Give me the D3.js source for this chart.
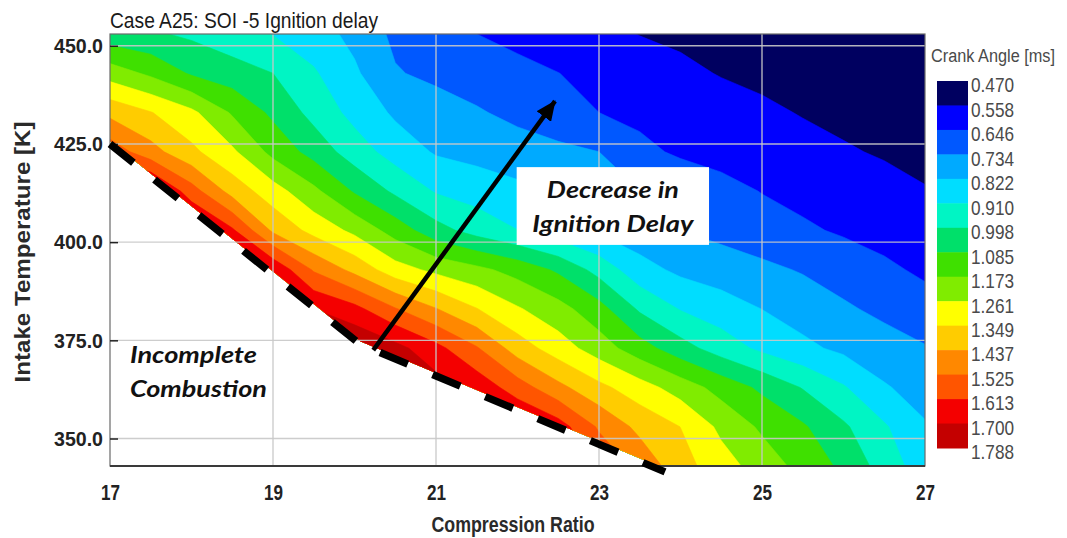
<!DOCTYPE html>
<html>
<head>
<meta charset="utf-8">
<script src="https://cdn.jsdelivr.net/npm/d3@7"></script>
<style>
  html, body { margin: 0; padding: 0; background: #fff; }
  svg { display: block; }
  .narrow { font-family: "Liberation Sans Narrow", "Arial Narrow", "Liberation Sans", Arial, sans-serif; }
  .note { font-family: Lato, "Open Sans", "DejaVu Sans", sans-serif; font-weight: 700; font-style: italic; }
</style>
</head>
<body>
<svg id="chart" width="1067" height="538"></svg>
<script>
// Simulation grid: compression ratio columns, intake temperature rows [K]
const compressionRatio = [17, 17.5, 18, 18.5, 19, 19.5, 20, 20.5, 21, 21.5, 22, 22.5, 23, 23.5, 24, 24.5, 25, 25.5, 26, 26.5, 27];
const intakeTemp = [453, 443, 433, 423, 413, 403, 393, 383, 373, 363, 353, 343];

// Ignition delay [ms] per intake temperature row
const delayT453 = [1.030, 1.010, 0.983, 0.945, 0.907, 0.861, 0.798, 0.715, 0.680, 0.646, 0.623, 0.600, 0.577, 0.556, 0.544, 0.532, 0.519, 0.507, 0.495, 0.482, 0.470];
const delayT443 = [1.220, 1.156, 1.074, 1.036, 0.998, 0.920, 0.836, 0.741, 0.713, 0.691, 0.669, 0.647, 0.623, 0.598, 0.574, 0.554, 0.542, 0.529, 0.517, 0.505, 0.493];
const delayT433 = [1.413, 1.353, 1.281, 1.163, 1.066, 0.970, 0.882, 0.808, 0.776, 0.743, 0.711, 0.679, 0.646, 0.628, 0.609, 0.590, 0.571, 0.554, 0.541, 0.528, 0.515];
const delayT423 = [1.578, 1.470, 1.370, 1.277, 1.146, 1.052, 0.954, 0.872, 0.813, 0.793, 0.774, 0.754, 0.734, 0.665, 0.634, 0.617, 0.600, 0.582, 0.565, 0.551, 0.538];
const delayT413 = [1.788, 1.747, 1.563, 1.403, 1.299, 1.194, 1.075, 0.981, 0.902, 0.872, 0.842, 0.809, 0.772, 0.735, 0.704, 0.673, 0.643, 0.623, 0.603, 0.582, 0.562];
const delayT403 = [1.788, 1.788, 1.750, 1.627, 1.421, 1.320, 1.240, 1.135, 1.030, 0.963, 0.911, 0.856, 0.807, 0.771, 0.734, 0.709, 0.684, 0.658, 0.636, 0.616, 0.596];
const delayT393 = [1.788, 1.788, 1.788, 1.750, 1.686, 1.515, 1.411, 1.298, 1.239, 1.195, 1.141, 1.070, 0.966, 0.854, 0.803, 0.778, 0.753, 0.727, 0.694, 0.662, 0.631];
const delayT383 = [1.788, 1.788, 1.788, 1.788, 1.750, 1.700, 1.640, 1.531, 1.441, 1.352, 1.270, 1.205, 1.118, 0.985, 0.905, 0.863, 0.821, 0.784, 0.747, 0.713, 0.680];
const delayT373 = [1.788, 1.788, 1.788, 1.788, 1.788, 1.788, 1.788, 1.730, 1.640, 1.533, 1.395, 1.304, 1.217, 1.123, 1.033, 0.956, 0.891, 0.842, 0.803, 0.772, 0.740];
const delayT363 = [1.788, 1.788, 1.788, 1.788, 1.788, 1.788, 1.788, 1.770, 1.740, 1.671, 1.569, 1.461, 1.372, 1.299, 1.221, 1.140, 1.067, 0.993, 0.918, 0.830, 0.787];
const delayT353 = [1.788, 1.788, 1.788, 1.788, 1.788, 1.788, 1.788, 1.788, 1.788, 1.760, 1.720, 1.654, 1.513, 1.413, 1.348, 1.241, 1.158, 1.096, 1.012, 0.920, 0.830];
const delayT343 = [1.788, 1.788, 1.788, 1.788, 1.788, 1.788, 1.788, 1.788, 1.788, 1.788, 1.750, 1.700, 1.600, 1.499, 1.384, 1.298, 1.222, 1.143, 1.066, 0.960, 0.860];

// Contour levels and their fills (lowest level first)
const levels = [0.470, 0.558, 0.646, 0.734, 0.822, 0.910, 0.998, 1.085, 1.173, 1.261, 1.349, 1.437, 1.525, 1.613, 1.700, 1.788];
const levelColors = ["#000060", "#0000ff", "#0058ff", "#00aaff", "#00ddff", "#00f5c4", "#00e06a", "#3fe000",
                     "#80ec00", "#ffff00", "#ffcc00", "#ff8800", "#ff5500", "#f40000", "#c40000"];

const xTickValues = [17, 19, 21, 23, 25, 27];
const yTickValues = [350, 375, 400, 425, 450];

// Incomplete-combustion limit (dashed) and the trend arrow, in data units
const limitCR = [17, 20.07, 23.81];
const limitT = [425, 374, 341.5];
const arrowCR = [20.23, 22.46];
const arrowT = [372.5, 435.9];

const svg = d3.select("#chart");
const plot = { left: 110, right: 925, top: 34, bottom: 466 };

const x = d3.scaleLinear().domain([17, 27]).range([plot.left, plot.right]);
const y = d3.scaleLinear().domain([343, 453]).range([plot.bottom, plot.top]);

const defs = svg.append("defs");
defs.append("clipPath").attr("id", "plot-clip")
  .append("rect")
  .attr("x", plot.left).attr("y", plot.top)
  .attr("width", plot.right - plot.left).attr("height", plot.bottom - plot.top);

// Region above the combustion limit, where results exist
const limitPts = limitCR.map((c, i) => [x(c), y(limitT[i]) - 3]);
const validRing = [
  [plot.left - 20, plot.top - 20],
  [plot.right + 20, plot.top - 20],
  [plot.right + 20, plot.bottom + 20],
  [limitPts[limitPts.length - 1][0] + 20, plot.bottom + 20],
  ...limitPts.slice().reverse(),
  [plot.left - 20, limitPts[0][1]]
];
defs.append("clipPath").attr("id", "valid-clip")
  .append("path").attr("d", d3.line()(validRing) + "Z");

defs.append("marker")
  .attr("id", "arrow-head")
  .attr("viewBox", "0 0 20 18")
  .attr("refX", 19).attr("refY", 9)
  .attr("markerUnits", "userSpaceOnUse")
  .attr("markerWidth", 20).attr("markerHeight", 18)
  .attr("orient", "auto")
  .append("path").attr("d", "M0,0 L20,9 L0,18 Z").attr("fill", "#000");

// Filled contour bands
const rows = [delayT453, delayT443, delayT433, delayT423, delayT413, delayT403,
              delayT393, delayT383, delayT373, delayT363, delayT353, delayT343];
const nx = compressionRatio.length, ny = intakeTemp.length;
const values = rows.flat();
const bands = d3.contours().size([nx, ny]).thresholds(levels.slice(0, -1))(values);

const gx = d3.scaleLinear().domain([0.5, nx - 0.5]).range([compressionRatio[0], compressionRatio[nx - 1]]);
const gy = d3.scaleLinear().domain([0.5, ny - 0.5]).range([intakeTemp[0], intakeTemp[ny - 1]]);
const gridToScreen = d3.geoTransform({
  point(px, py) { this.stream.point(x(gx(px)), y(gy(py))); }
});
const bandPath = d3.geoPath(gridToScreen);

svg.append("g").attr("clip-path", "url(#plot-clip)")
  .append("g").attr("clip-path", "url(#valid-clip)")
  .selectAll("path")
  .data(bands)
  .join("path")
  .attr("d", bandPath)
  .attr("fill", (d, i) => levelColors[i])
  .attr("stroke", (d, i) => levelColors[i])
  .attr("stroke-width", 0.6);

// Grid
const grid = svg.append("g").attr("stroke", "#c8c8c8").attr("stroke-opacity", 0.9).attr("stroke-width", 1.4);
grid.selectAll(".gx").data(xTickValues.slice(1, -1)).join("line")
  .attr("x1", d => x(d)).attr("x2", d => x(d))
  .attr("y1", plot.top).attr("y2", plot.bottom);
grid.selectAll(".gy").data(yTickValues).join("line")
  .attr("x1", plot.left).attr("x2", plot.right)
  .attr("y1", d => y(d)).attr("y2", d => y(d));

// Frame
svg.append("rect")
  .attr("x", plot.left).attr("y", plot.top)
  .attr("width", plot.right - plot.left).attr("height", plot.bottom - plot.top)
  .attr("fill", "none").attr("stroke", "#6a6a6a").attr("stroke-width", 1.2);
svg.append("line")
  .attr("x1", plot.left).attr("x2", plot.right)
  .attr("y1", plot.bottom).attr("y2", plot.bottom)
  .attr("stroke", "#3a3a3a").attr("stroke-width", 2);

// Axes
const yAxis = d3.axisLeft(y).tickValues(yTickValues).tickSizeInner(-8).tickSizeOuter(0)
  .tickPadding(7).tickFormat(d3.format(".1f"));
const yAxisG = svg.append("g").attr("transform", `translate(${plot.left},0)`).call(yAxis);
yAxisG.select(".domain").remove();
yAxisG.selectAll(".tick line").attr("stroke", "#222").attr("stroke-width", 1.5);
yAxisG.selectAll(".tick text").attr("class", "narrow")
  .attr("font-size", 21).attr("font-weight", 700).attr("fill", "#222")
  .attr("textLength", 49).attr("lengthAdjust", "spacingAndGlyphs");

const xAxis = d3.axisBottom(x).tickValues(xTickValues).tickSize(0).tickPadding(18).tickFormat(d3.format("d"));
const xAxisG = svg.append("g").attr("transform", `translate(0,${plot.bottom})`).call(xAxis);
xAxisG.select(".domain").remove();
xAxisG.selectAll(".tick text").attr("class", "narrow")
  .attr("font-size", 22).attr("font-weight", 700).attr("fill", "#222")
  .attr("textLength", 19).attr("lengthAdjust", "spacingAndGlyphs");

// Titles
svg.append("text").attr("class", "narrow")
  .attr("x", plot.left).attr("y", 27.5)
  .attr("font-size", 22).attr("fill", "#1a1a1a")
  .attr("textLength", 268).attr("lengthAdjust", "spacingAndGlyphs")
  .text("Case A25: SOI -5 Ignition delay");

svg.append("text").attr("class", "narrow")
  .attr("x", 513).attr("y", 532)
  .attr("text-anchor", "middle")
  .attr("font-size", 22).attr("font-weight", 700).attr("fill", "#2a2a2a")
  .attr("textLength", 163).attr("lengthAdjust", "spacingAndGlyphs")
  .text("Compression Ratio");

svg.append("text").attr("class", "narrow")
  .attr("transform", "translate(30,252) rotate(-90)")
  .attr("text-anchor", "middle")
  .attr("font-size", 22).attr("font-weight", 700).attr("fill", "#2a2a2a")
  .attr("textLength", 261).attr("lengthAdjust", "spacingAndGlyphs")
  .text("Intake Temperature [K]");

// Colour legend
const legendY = d3.scaleLinear().domain([0, levels.length - 1]).range([81, 448]);
const legend = svg.append("g");
legend.selectAll("rect")
  .data(levelColors)
  .join("rect")
  .attr("x", 937).attr("width", 31)
  .attr("y", (d, i) => legendY(i))
  .attr("height", (d, i) => legendY(i + 1) - legendY(i) + 0.5)
  .attr("fill", d => d);
legend.selectAll("text")
  .data(levels)
  .join("text")
  .attr("class", "narrow")
  .attr("x", 971)
  .attr("y", (d, i) => legendY(i) + 4)
  .attr("dy", "0.35em")
  .attr("font-size", 21).attr("fill", "#4a4a4a")
  .attr("textLength", 43).attr("lengthAdjust", "spacingAndGlyphs")
  .text(d => d.toFixed(3));
svg.append("text").attr("class", "narrow")
  .attr("x", 931).attr("y", 62)
  .attr("font-size", 18).attr("fill", "#4a4a4a")
  .attr("textLength", 124).attr("lengthAdjust", "spacingAndGlyphs")
  .text("Crank Angle [ms]");

// Combustion limit
svg.append("path")
  .datum(limitCR.map((c, i) => [c, limitT[i]]))
  .attr("d", d3.line().x(d => x(d[0])).y(d => y(d[1])))
  .attr("fill", "none").attr("stroke", "#000")
  .attr("stroke-width", 7.5).attr("stroke-dasharray", "30 27");

// Trend arrow
svg.append("line")
  .attr("x1", x(arrowCR[0])).attr("y1", y(arrowT[0]))
  .attr("x2", x(arrowCR[1])).attr("y2", y(arrowT[1]))
  .attr("stroke", "#000").attr("stroke-width", 4.5)
  .attr("marker-end", "url(#arrow-head)");

// Annotations
svg.append("rect")
  .attr("x", x(21.99)).attr("y", y(419.1))
  .attr("width", x(24.35) - x(21.99)).attr("height", y(399.3) - y(419.1))
  .attr("fill", "#fff");
const boxNote = svg.append("text").attr("class", "note")
  .attr("text-anchor", "middle").attr("font-size", 22).attr("fill", "#111");
boxNote.append("tspan").attr("x", x(23.17)).attr("y", y(411.2))
  .attr("textLength", 132).attr("lengthAdjust", "spacingAndGlyphs").text("Decrease in");
boxNote.append("tspan").attr("x", x(23.17)).attr("y", y(402.6))
  .attr("textLength", 161).attr("lengthAdjust", "spacingAndGlyphs").text("Ignition Delay");

const limitNote = svg.append("text").attr("class", "note")
  .attr("font-size", 22).attr("fill", "#111");
limitNote.append("tspan").attr("x", x(17.245)).attr("y", y(369.2))
  .attr("textLength", 127).attr("lengthAdjust", "spacingAndGlyphs").text("Incomplete");
limitNote.append("tspan").attr("x", x(17.245)).attr("y", y(360.6))
  .attr("textLength", 137).attr("lengthAdjust", "spacingAndGlyphs").text("Combustion");
</script>
</body>
</html>
